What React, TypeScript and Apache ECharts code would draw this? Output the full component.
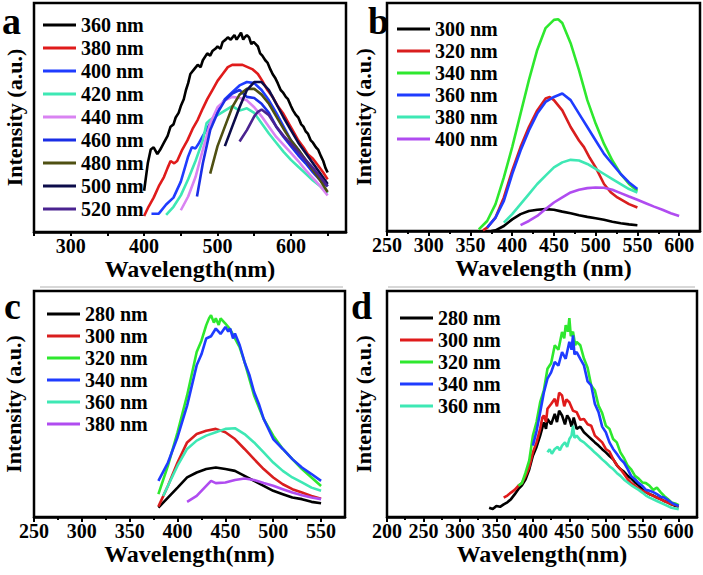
import { useEffect, useRef } from 'react';
import * as echarts from 'echarts';

type P = [number, number][];

// ---------- Panel a ----------
const a360: P = [[400,18],[405,30],[409,36],[413,37],[418,34],[422,36],[427,39],[432,42],[436,46],[440,47],[443,50],[447,52],[450,55],[454,58],[457,62],[460,65],[463,69],[468,71],[473,73],[477,72],[480,75],[486,78],[490,77],[493,79],[497,80],[500,81],[504,80],[507,83],[511,84],[514,85],[518,84],[523,86],[526,84],[528,85],[532,87],[535,84],[537,85],[540,86],[543,85],[546,82],[549,83],[552,82],[555,81],[558,78],[561,77],[565,75],[568,74],[572,71],[575,69],[579,67],[582,65],[586,62],[589,61],[593,59],[596,58],[600,55],[603,53],[607,51],[610,50],[614,47],[617,46],[620,44],[623,43],[627,40],[630,39],[634,37],[637,36],[641,33],[644,31],[647,28],[650,26]];
const a380: P = [[400,7],[406,11],[413,15],[420,20],[427,24],[432,28],[436,31],[441,30],[445,31],[452,36],[459,40],[466,45],[473,49],[480,54],[486,58],[493,62],[500,66],[507,69],[514,72],[520,73],[527,73],[534,73],[541,72],[548,71],[555,69],[561,66],[568,62],[575,59],[582,55],[589,52],[596,48],[603,44],[610,40],[617,37],[623,34],[630,32],[637,29],[644,26],[650,23]];
const a400: P = [[410,8],[420,8],[430,12],[440,15],[450,22],[460,33],[465,37],[470,36.5],[475,39],[480,42],[490,47.5],[500,53],[510,58],[520,61],[530,64],[540,65.5],[550,65],[560,62],[570,57.5],[580,52],[590,46],[600,40],[610,36],[620,31],[630,27],[640,23.5],[650,20]];
const a420: P = [[430,7.5],[440,11],[450,16],[460,23],[470,31],[480,40],[485,47.5],[490,49],[500,51],[510,53],[520,55],[530,53],[540,54],[550,52],[560,47.5],[570,43],[580,39],[590,35],[600,31.5],[610,28.5],[620,25.5],[630,22.5],[640,20],[650,17]];
const a440: P = [[450,9.5],[460,15.5],[470,24],[480,36],[490,47.5],[500,54.5],[510,57.5],[520,59],[530,58.5],[540,57.5],[550,54.5],[560,50.5],[570,46],[580,41.5],[590,38],[600,34.5],[610,31],[620,27],[630,23.5],[640,20],[650,16]];
const a460: P = [[472,15.5],[480,30],[490,44.5],[500,52],[510,57.5],[520,60.5],[530,62],[540,59],[550,58.5],[560,56],[570,52],[580,46],[590,41.5],[600,37.5],[610,33.5],[620,30],[630,26],[640,22.5],[650,20]];
const a480: P = [[490,25.5],[500,37.5],[510,46],[520,54.5],[530,60],[540,62.5],[550,62.5],[560,60],[570,56],[580,50.5],[590,45],[600,40],[610,36],[620,31.5],[630,27],[640,22.5],[650,17.5]];
const a500: P = [[510,37.5],[520,46],[530,54.5],[540,62],[550,65.5],[560,65.5],[570,62],[580,56],[590,50],[600,44.5],[610,39],[620,34.5],[630,30],[640,25.5],[650,21]];
const a520: P = [[530,39.5],[540,44.5],[550,50.5],[555,52.5],[560,53.5],[570,51],[580,46],[590,42],[600,38.5],[610,35],[620,31.5],[630,28],[640,24],[650,20]];
const aNames = ['360 nm', '380 nm', '400 nm', '420 nm', '440 nm', '460 nm', '480 nm', '500 nm', '520 nm'];
const aData = [a360, a380, a400, a420, a440, a460, a480, a500, a520];
const aColors = ['#000000', '#e01b1b', '#1f3cff', '#3ee8b4', '#d983f2', '#1a2ee6', '#4f5012', '#0c0c4a', '#4a2390'];

// ---------- Panel b ----------
const b300: P = [[375,0],[380,0.3],[390,2.2],[400,5.1],[410,7.4],[420,8.8],[430,9.3],[440,9.6],[450,9.3],[460,8.5],[470,7.8],[480,6.9],[490,6.2],[500,5.6],[510,4.9],[520,4.1],[530,3.4],[540,2.9],[550,2.5]];
const b320: P = [[365,0.3],[370,1.5],[380,5.9],[390,14.7],[400,26.5],[410,36.8],[420,45.6],[430,52.9],[440,58.1],[445,58.8],[450,57.4],[460,52.9],[470,45.6],[480,39.7],[486,36.8],[493,32],[500,27.9],[510,20.6],[518,17],[526,14.7],[540,11.8],[550,10.3]];
const b340: P = [[360,0.7],[370,4.4],[380,11.8],[390,23.5],[400,36.8],[410,51.5],[420,66.2],[430,79.4],[440,89],[450,92.6],[455,92.9],[460,91.2],[470,82.4],[480,70.6],[490,57.4],[500,47.1],[510,38.2],[520,30.9],[530,25],[540,20.6],[550,17.6]];
const b360: P = [[370,1.5],[380,5.9],[390,13.2],[400,25],[410,35.3],[420,44.1],[430,51.5],[440,56.6],[450,58.8],[460,60.3],[470,57.4],[480,51.5],[490,45.6],[500,39.7],[510,33.8],[520,29.4],[530,25],[540,21.3],[550,18.4]];
const b380: P = [[390,3.7],[400,7.4],[410,11.8],[420,16.2],[430,20.6],[440,24.3],[450,27.9],[460,30.1],[470,31.2],[480,30.9],[490,29.4],[500,27.2],[510,25],[520,22.8],[530,20.6],[540,18.4],[550,16.9]];
const b400: P = [[410,2.6],[420,4.4],[430,6.6],[440,9.6],[450,12.5],[460,14.7],[470,16.9],[480,18.1],[490,18.8],[500,19.1],[510,19],[520,18.1],[530,16.6],[540,15.1],[550,13.7],[560,12.2],[570,10.7],[580,9.3],[590,7.8],[600,6.6]];
const bNames = ['300 nm', '320 nm', '340 nm', '360 nm', '380 nm', '400 nm'];
const bData = [b300, b320, b340, b360, b380, b400];
const bColors = ['#000000', '#d91e1e', '#2ee82e', '#1f3cff', '#3ee8b4', '#b04cf0'];

// ---------- Panel c ----------
const c280: P = [[380,4.1],[390,8.6],[400,13],[410,17.5],[420,19.7],[430,21.2],[440,21.9],[450,21.2],[460,20.4],[470,18.2],[480,16],[490,13.8],[500,11.6],[510,10.1],[520,8.6],[530,7.9],[540,6.7],[550,6.1]];
const c300: P = [[380,4.6],[390,13.8],[400,24.1],[410,33],[420,36.7],[430,38.2],[440,39],[450,37.5],[460,34.5],[470,30.1],[480,25.6],[490,21.2],[500,17.5],[510,14.5],[520,12.3],[530,10.8],[540,9.3],[550,8.1]];
const c320: P = [[380,10.1],[390,22.7],[400,37.5],[410,53.8],[420,73],[425,78],[430,84.9],[433,88],[435,89.3],[438,86],[440,87.9],[443,85],[445,87.9],[450,85.6],[455,83],[460,79],[465,75],[470,68.6],[480,53.8],[490,43.4],[500,36],[510,30.1],[520,25.6],[530,21.2],[540,17.5],[550,13.7]];
const c340: P = [[380,16],[390,24.1],[400,35.3],[410,49.3],[420,67.1],[425,72],[430,79],[435,80],[440,83.4],[445,81],[450,84.1],[453,82],[455,83.4],[458,79],[460,81.2],[465,76],[470,68.6],[475,63],[480,55.3],[485,50],[490,43.4],[500,34.5],[510,30.1],[520,25.6],[530,21.9],[540,19],[550,16]];
const c360: P = [[385,9.3],[390,13.8],[400,22.7],[410,30.1],[420,33.8],[430,36],[440,37.5],[450,39],[460,39.3],[470,36.7],[480,33],[490,28.6],[500,24.1],[510,20.4],[520,17.5],[530,15.3],[540,13],[550,11.6]];
const c380: P = [[410,6.7],[420,9.3],[430,13.8],[435,16],[440,15],[450,15.3],[460,16.4],[470,17],[480,16.4],[490,15],[500,13.8],[510,12.3],[520,10.8],[530,9.6],[540,8.6],[550,7.9]];
const cNames = ['280 nm', '300 nm', '320 nm', '340 nm', '360 nm', '380 nm'];
const cData = [c280, c300, c320, c340, c360, c380];
const cColors = ['#000000', '#d91e1e', '#2ee82e', '#1f3cff', '#3ee8b4', '#b04cf0'];

// ---------- Panel d ----------
const d280: P = [[340,4.1],[345,3.5],[350,4.9],[355,4.5],[360,5.6],[365,6.5],[370,7.9],[375,10],[380,12.3],[385,14],[390,16.7],[395,21],[400,27.1],[405,31],[410,36],[415,41.9],[418,39],[420,43.4],[425,41],[430,45.6],[433,42],[436,47],[440,44.9],[444,41],[447,45],[450,43.4],[453,40],[456,44],[460,39],[465,40],[470,37.5],[475,36],[480,34.5],[485,33],[490,31.6],[495,30],[500,28.6],[505,27],[510,25.6],[515,23],[520,21.2],[525,20],[530,18.2],[535,17],[540,15.3],[545,14],[550,12.3],[555,11],[560,10.1],[565,9.5],[570,8.6],[575,8],[580,7.1],[585,6.5],[590,5.6],[595,5],[600,4.6]];
const d300: P = [[360,8.6],[365,9.5],[370,10.8],[375,12],[380,13.8],[385,15],[390,18.2],[395,22],[400,28.6],[405,33],[410,39],[413,44],[415,44.9],[418,42],[420,47.9],[425,50],[430,52.3],[433,49],[436,55],[440,53.8],[443,49],[446,52],[450,50.8],[455,47],[460,46.4],[465,43],[470,43.4],[475,41],[480,40.4],[485,36],[490,34.5],[495,33],[500,30.1],[505,29],[510,25.6],[515,23],[520,21.2],[525,19],[530,16.7],[535,15],[540,13.8],[545,12.5],[550,11.6],[555,11],[560,10.1],[570,8.6],[580,7.1],[590,5.6],[600,4.9]];
const d320: P = [[380,13.8],[385,15],[390,19.7],[395,25],[400,36],[405,42],[410,50.8],[415,56],[420,65.6],[425,68],[430,76],[435,74],[440,81.9],[443,79],[445,84.9],[448,82],[450,88],[452,80],[455,82],[458,76],[460,77.5],[465,76],[470,70.1],[475,66],[480,58.2],[485,56],[490,49.3],[495,46],[500,40.4],[505,39],[510,34.5],[515,33],[520,28.6],[525,26],[530,22.7],[535,21],[540,18.2],[545,17],[550,15.3],[555,15],[560,13.8],[565,12],[570,13],[575,11],[580,9.3],[585,8],[590,6.4],[595,6],[600,5.2]];
const d340: P = [[400,31.6],[405,38],[410,46.4],[415,55],[420,61.2],[425,64],[430,68.6],[435,67],[440,73],[445,70],[450,77.5],[453,74],[455,80.4],[457,72],[460,73],[465,70],[470,67.1],[475,60],[480,58.2],[485,50],[490,46.4],[495,40],[500,37.5],[505,33],[510,30.1],[515,28],[520,25.6],[525,24],[530,21.2],[535,18],[540,16.7],[545,15],[550,13.8],[555,12],[560,11.6],[565,11],[570,10.1],[575,9],[580,8.6],[585,7.5],[590,6.4],[595,5.5],[600,4.9]];
const d360: P = [[420,28.6],[423,30],[426,28],[430,30.1],[434,31],[437,29.5],[440,31.6],[444,33],[447,31],[450,34.5],[453,36],[455,40.4],[457,35],[460,36],[465,34],[470,33],[475,31.5],[480,30.1],[485,28.5],[490,27.1],[495,25.5],[500,24.1],[505,22.5],[510,21.2],[515,19.5],[520,18.2],[525,16.5],[530,15.3],[535,14],[540,13],[545,12],[550,10.8],[555,9.5],[560,8.6],[570,7.1],[580,5.6],[590,4.1],[600,3.4]];
const dNames = ['280 nm', '300 nm', '320 nm', '340 nm', '360 nm'];
const dData = [d280, d300, d320, d340, d360];
const dColors = ['#000000', '#e01b1b', '#2ee82e', '#1f3cff', '#3ee8b4'];

// ---------- Axes ----------
const aTicks = [250, 300, 350, 400, 450, 500, 550, 600, 650];
const aLabels = [300, 400, 500, 600];
const bTicks = [250, 300, 350, 400, 450, 500, 550, 600];
const bMinor = [275, 325, 375, 425, 475, 525, 575];
const cTicks = [250, 300, 350, 400, 450, 500, 550];
const cMinor = [275, 325, 375, 425, 475, 525];
const dTicks = [200, 250, 300, 350, 400, 450, 500, 550, 600];
const dMinor = [225, 275, 325, 375, 425, 475, 525, 575];

const FONT = '"Liberation Serif", "Times New Roman", serif';
const txt = (size: number) => ({ fontFamily: FONT, fontWeight: 'bold' as const, fontSize: size, color: '#000' });

export default function App() {
  const ref = useRef<HTMLDivElement>(null);
  useEffect(() => {
    document.body.style.margin = '0';
    if (!ref.current) return;
    const chart = echarts.init(ref.current, undefined, { renderer: 'svg' });

    const grids = [
      { left: 34, top: 3, width: 312, height: 229 },
      { left: 387, top: 3, width: 313, height: 228 },
      { left: 34, top: 291, width: 311, height: 226 },
      { left: 387, top: 291, width: 310, height: 226 },
    ].map((g) => ({ ...g, show: true, borderColor: '#000', borderWidth: 2.5, backgroundColor: 'transparent' }));

    const mainX = (gi: number, min: number, max: number, ticks: number[], labels: number[], margin: number, name: string, nameGap: number, tickLen: number) => ({
      type: 'value', gridIndex: gi, min, max, position: 'bottom',
      axisLine: { show: true, onZero: false, lineStyle: { color: '#000', width: 2.5 } },
      axisTick: { show: true, inside: false, length: tickLen, customValues: ticks, lineStyle: { color: '#000', width: 2 } },
      axisLabel: { show: true, customValues: labels, margin, ...txt(20) },
      splitLine: { show: false },
      name, nameLocation: 'middle', nameGap, nameTextStyle: txt(24),
    });
    const minorX = (gi: number, min: number, max: number, ticks: number[]) => ({
      type: 'value', gridIndex: gi, min, max, position: 'bottom',
      axisLine: { show: false, onZero: false },
      axisTick: { show: true, inside: false, length: 3, customValues: ticks, lineStyle: { color: '#000', width: 2 } },
      axisLabel: { show: false },
      splitLine: { show: false },
    });
    const yAx = (gi: number, nameGap: number) => ({
      type: 'value', gridIndex: gi, min: 0, max: 100,
      axisLine: { show: false }, axisTick: { show: false }, axisLabel: { show: false }, splitLine: { show: false },
      name: 'Intensity (a.u.)', nameLocation: 'middle', nameGap, nameRotate: 90, nameTextStyle: txt(22),
    });

    const xAxis = [
      mainX(0, 250, 675, aTicks, aLabels, 4, 'Wavelength(nm)', 23, 4),
      mainX(1, 250, 625, bTicks, bTicks, 4, 'Wavelength (nm)', 23, 5),
      mainX(2, 250, 575, cTicks, cTicks, 4, 'Wavelength(nm)', 23, 5),
      mainX(3, 200, 625, dTicks, dTicks, 4, 'Wavelength(nm)', 23, 5),
      minorX(1, 250, 625, bMinor),
      minorX(2, 250, 575, cMinor),
      minorX(3, 200, 625, dMinor),
    ];
    const yAxis = [yAx(0, 9), yAx(1, 13), yAx(2, 10), yAx(3, 13)];

    const panels = [
      { key: 'a', names: aNames, data: aData, colors: aColors },
      { key: 'b', names: bNames, data: bData, colors: bColors },
      { key: 'c', names: cNames, data: cData, colors: cColors },
      { key: 'd', names: dNames, data: dData, colors: dColors },
    ];
    const series: any[] = [];
    panels.forEach((p, gi) => {
      p.names.forEach((n, i) => {
        series.push({
          type: 'line', name: p.key + ':' + n, xAxisIndex: gi, yAxisIndex: gi,
          data: p.data[i], symbol: 'none', showSymbol: false, smooth: false,
          color: p.colors[i], lineStyle: { color: p.colors[i], width: 2.6 },
          clip: true,
        });
      });
    });

    const legPos = [
      { left: 43, top: 15, gap: 3 },
      { left: 397, top: 19, gap: 2 },
      { left: 47, top: 304, gap: 2 },
      { left: 400, top: 308, gap: 2 },
    ];
    const legend = panels.map((p, gi) => ({
      data: p.names.map((n) => p.key + ':' + n),
      orient: 'vertical', left: legPos[gi].left, top: legPos[gi].top,
      itemWidth: 33, itemHeight: 3, itemGap: legPos[gi].gap, icon: 'rect', padding: 0,
      selectedMode: false,
      formatter: (name: string) => name.slice(2),
      textStyle: { ...txt(20), lineHeight: 20 },
    }));

    const letter = (t: string, x: number, y: number) => ({
      type: 'text', x, y, style: { text: t, font: 'bold 38px "Liberation Serif", serif', fill: '#000', verticalAlign: 'middle', textAlign: 'left' },
    });

    chart.setOption({
      animation: false,
      backgroundColor: '#fff',
      grid: grids,
      xAxis, yAxis, series, legend,
      graphic: [
        letter('a', 2, 21),
        letter('b', 368, 21),
        letter('c', 4, 306),
        letter('d', 351, 306),
        { type: 'line', shape: { x1: 40, y1: 287, x2: 343, y2: 287 }, style: { stroke: '#b0b0b0', lineWidth: 1 } },
        { type: 'line', shape: { x1: 388, y1: 287, x2: 695, y2: 287 }, style: { stroke: '#b0b0b0', lineWidth: 1 } },
      ],
    });
    return () => chart.dispose();
  }, []);
  return <div ref={ref} style={{ width: 703, height: 575 }} />;
}
